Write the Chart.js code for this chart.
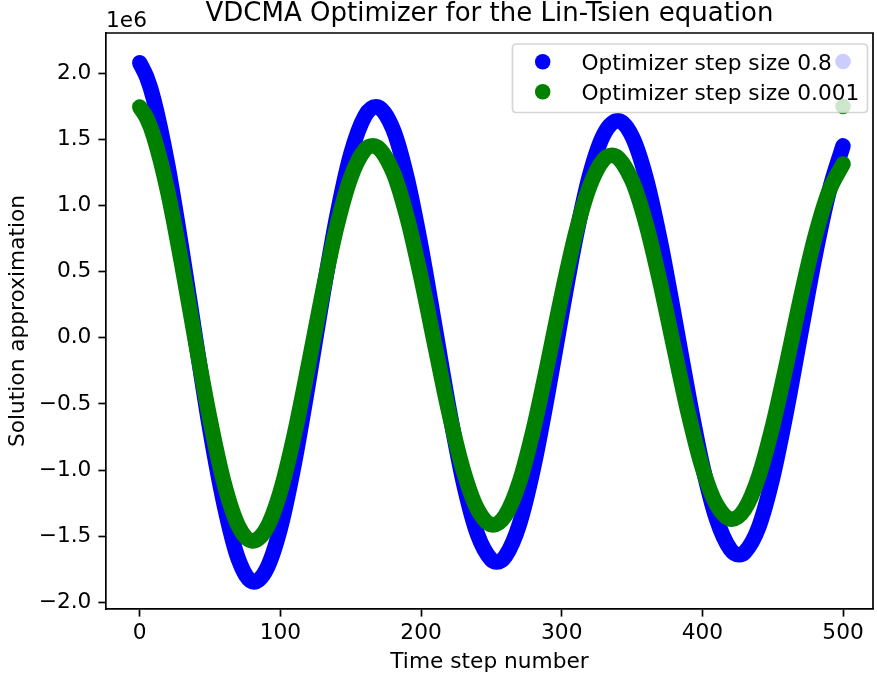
<!DOCTYPE html>
<html><head><meta charset="utf-8">
<script src="https://cdn.jsdelivr.net/npm/chart.js@4"></script>
<style>html,body{margin:0;padding:0;background:#fff}#wrap{width:877px;height:684px}</style>
</head><body><div id="wrap"><canvas id="c" width="877" height="684"></canvas></div>
<script>
// ---- text ----
const TITLE = "VDCMA Optimizer for the Lin-Tsien equation";
const X_LABEL = "Time step number";
const Y_LABEL = "Solution approximation";
const Y_OFFSET_TEXT = "1e6";
const SERIES_NAMES = ["Optimizer step size 0.8", "Optimizer step size 0.001"];

// ---- data (values in units of 1e6) ----
const blueSteps  = [0,5,10,20,30,40,50,60,70,81,90,100,110,120,130,140,150,160,168,180,190,200,210,220,230,240,250,254,260,270,280,290,300,310,320,330,340,350,360,370,380,390,400,410,420,426,430,440,450,460,470,480,490,500];
const blueValues = [2.08,1.97,1.80,1.30,0.66,-0.03,-0.70,-1.26,-1.67,-1.845,-1.751,-1.437,-0.942,-0.334,0.313,0.911,1.387,1.676,1.747,1.579,1.210,0.686,0.074,-0.544,-1.088,-1.482,-1.678,-1.694,-1.650,-1.406,-0.978,-0.426,0.181,0.759,1.234,1.540,1.641,1.523,1.207,0.733,0.164,-0.426,-0.961,-1.368,-1.601,-1.640,-1.623,-1.433,-1.056,-0.542,0.039,0.614,1.104,1.452];
const greenSteps  = [0,5,10,20,30,40,50,60,70,80,90,100,110,120,130,140,150,160,166,180,190,200,210,220,230,240,251,260,270,280,290,300,310,320,330,336,350,360,370,380,390,400,410,421,430,440,450,460,470,480,490,500];
const greenValues = [1.745,1.66,1.52,1.10,0.55,-0.05,-0.62,-1.10,-1.42,-1.535,-1.442,-1.161,-0.728,-0.204,0.343,0.838,1.212,1.421,1.452,1.255,0.913,0.453,-0.065,-0.572,-1.000,-1.293,-1.414,-1.341,-1.088,-0.686,-0.194,0.324,0.793,1.150,1.351,1.380,1.189,0.860,0.415,-0.084,-0.571,-0.982,-1.259,-1.371,-1.297,-1.050,-0.664,-0.191,0.308,0.760,1.108,1.315];
// single extra points drawn at the last step (seen behind the legend)
const extraSteps = [500];
const blueExtra  = [2.09];
const greenExtra = [1.75];

const xTicks = [0,100,200,300,400,500];
const yTicks = [-2.0,-1.5,-1.0,-0.5,0.0,0.5,1.0,1.5,2.0];

const BLUE = '#0000ff', GREEN = '#008000';
const FONT = '"DejaVu Sans", sans-serif';
const FS = 21.7, TFS = 26;

const pts = (xs, ys) => xs.map((x, i) => ({x, y: ys[i]}));

const lineDs = (name, xs, ys, color, order) => ({
  label: name, data: pts(xs, ys), showLine: true, borderColor: color, backgroundColor: color,
  borderWidth: 15.5, pointRadius: 0, pointHoverRadius: 0, borderCapStyle: 'round', borderJoinStyle: 'round',
  cubicInterpolationMode: 'monotone', order
});
const dotDs = (xs, ys, color, order) => ({
  label: '', data: pts(xs, ys), showLine: false, pointRadius: 7.75, pointBorderWidth: 0,
  pointBackgroundColor: color, backgroundColor: color, borderColor: color, order
});

const decor = {
  id: 'decor',
  afterDraw(chart) {
    const {ctx, chartArea: a} = chart;
    ctx.save();
    // title
    ctx.fillStyle = '#000';
    ctx.font = TFS + 'px ' + FONT;
    ctx.textAlign = 'center'; ctx.textBaseline = 'alphabetic';
    ctx.fillText(TITLE, (a.left + a.right) / 2, 21);
    // offset text
    ctx.font = FS + 'px ' + FONT;
    ctx.textAlign = 'left';
    ctx.fillText(Y_OFFSET_TEXT, a.left, 26.8);
    // legend
    const lx = 512.5, ly = 44, lw = 355, lh = 68.5, r = 4;
    ctx.beginPath();
    ctx.moveTo(lx + r, ly); ctx.lineTo(lx + lw - r, ly); ctx.quadraticCurveTo(lx + lw, ly, lx + lw, ly + r);
    ctx.lineTo(lx + lw, ly + lh - r); ctx.quadraticCurveTo(lx + lw, ly + lh, lx + lw - r, ly + lh);
    ctx.lineTo(lx + r, ly + lh); ctx.quadraticCurveTo(lx, ly + lh, lx, ly + lh - r);
    ctx.lineTo(lx, ly + r); ctx.quadraticCurveTo(lx, ly, lx + r, ly); ctx.closePath();
    ctx.fillStyle = 'rgba(255,255,255,0.8)'; ctx.fill();
    ctx.strokeStyle = 'rgba(204,204,204,0.8)'; ctx.lineWidth = 1.7; ctx.stroke();
    const rows = [[SERIES_NAMES[0], BLUE, 61.7], [SERIES_NAMES[1], GREEN, 91.7]];
    ctx.font = FS + 'px ' + FONT; ctx.textAlign = 'left'; ctx.textBaseline = 'alphabetic';
    rows.forEach(([t, c, y]) => {
      ctx.fillStyle = c; ctx.beginPath(); ctx.arc(542.7, y, 7.75, 0, Math.PI * 2); ctx.fill();
      ctx.fillStyle = '#000'; ctx.fillText(t, 581.5, y + 7.8);
    });
    // frame (top & right spines)
    ctx.strokeStyle = '#000'; ctx.lineWidth = 1.7;
    ctx.beginPath();
    ctx.moveTo(a.left, a.top); ctx.lineTo(a.right, a.top); ctx.lineTo(a.right, a.bottom);
    ctx.stroke();
    ctx.restore();
  }
};

new Chart(document.getElementById('c'), {
  type: 'scatter',
  data: {
    datasets: [
      lineDs(SERIES_NAMES[0], blueSteps, blueValues, BLUE, 4),
      dotDs(extraSteps, blueExtra, BLUE, 3),
      lineDs(SERIES_NAMES[1], greenSteps, greenValues, GREEN, 2),
      dotDs(extraSteps, greenExtra, GREEN, 1)
    ]
  },
  options: {
    responsive: false, animation: false, devicePixelRatio: 1,
    layout: {autoPadding: false, padding: {top: 33, right: 4, left: 0, bottom: 0}},
    plugins: {legend: {display: false}, tooltip: {enabled: false}, title: {display: false}},
    events: [],
    scales: {
      x: {
        type: 'linear', min: -24, max: 521.3,
        afterFit: s => { s.height = 75; s.paddingLeft = 0; s.paddingRight = 0; },
        afterBuildTicks: s => { s.ticks = xTicks.map(v => ({value: v})); },
        ticks: {color: '#000', font: {family: FONT, size: FS}, padding: 4, maxRotation: 0, autoSkip: false,
                callback: v => String(v)},
        grid: {display: true, drawOnChartArea: false, drawTicks: true, tickLength: 7.6, tickWidth: 1.7, tickColor: '#000'},
        border: {display: true, color: '#000', width: 1.7},
        title: {display: true, text: X_LABEL, color: '#000', font: {family: FONT, size: FS}, padding: {top: 0, bottom: 9}}
      },
      y: {
        type: 'linear', min: -2.05, max: 2.305,
        afterFit: s => { s.width = 106; s.paddingTop = 0; s.paddingBottom = 0; },
        afterBuildTicks: s => { s.ticks = yTicks.map(v => ({value: v})); },
        ticks: {color: '#000', font: {family: FONT, size: FS}, padding: 7, autoSkip: false,
                callback: v => v.toFixed(1).replace('-', '\u2212')},
        grid: {display: true, drawOnChartArea: false, drawTicks: true, tickLength: 7.6, tickWidth: 1.7, tickColor: '#000'},
        border: {display: true, color: '#000', width: 1.7},
        title: {display: true, text: Y_LABEL, color: '#000', font: {family: FONT, size: FS}, padding: {top: 5, bottom: 0}}
      }
    }
  },
  plugins: [decor]
});
</script></body></html>
